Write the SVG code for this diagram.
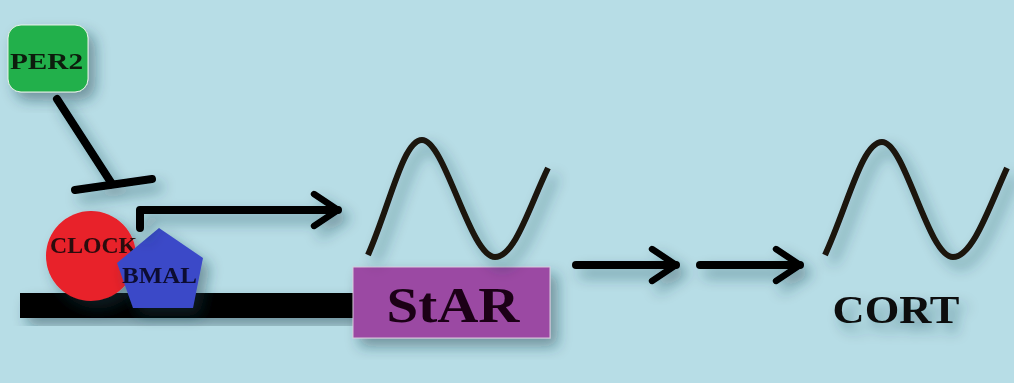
<svg xmlns="http://www.w3.org/2000/svg" width="1014" height="383" viewBox="0 0 1014 383">
<defs>
<filter id="sh" x="-30%" y="-30%" width="160%" height="160%">
<feDropShadow dx="7" dy="8" stdDeviation="7" flood-color="#1d3a44" flood-opacity="0.45"/>
</filter>
<marker id="chev" viewBox="0 0 10 10" refX="8" refY="5" markerWidth="5" markerHeight="5" orient="auto" markerUnits="strokeWidth">
<path d="M2,1 L8,5 L2,9" fill="none" stroke="#000" stroke-width="1.6" stroke-linecap="round" stroke-linejoin="round"/>
</marker>
</defs>
<style>
.lbl{font-family:"Liberation Serif","DejaVu Serif",serif;font-weight:bold;}
.conn{fill:none;stroke:#000;stroke-width:8;stroke-linecap:round;stroke-linejoin:round;}
.wave{fill:none;stroke:#1a1410;stroke-width:6;stroke-linecap:butt;stroke-linejoin:round;}
</style>
<rect x="0" y="0" width="1014" height="383" fill="#b7dde6"/>

<g id="dna" filter="url(#sh)">
<rect x="20" y="293" width="340" height="25" fill="#000"/>
</g>

<g id="per2" filter="url(#sh)">
<rect x="8" y="25" width="80" height="67" rx="13" fill="#22b04b" stroke="#e6f2e6" stroke-width="1"/>
<text class="lbl" x="10" y="69" font-size="24" fill="#0a1a0a" textLength="73" lengthAdjust="spacingAndGlyphs">PER2</text>
</g>

<g id="clock" filter="url(#sh)">
<circle cx="91" cy="256" r="45" fill="#e8202a"/>
<text class="lbl" x="50" y="253" font-size="24" fill="#2a080c" textLength="87" lengthAdjust="spacingAndGlyphs">CLOCK</text>
</g>

<g id="bmal" filter="url(#sh)">
<polygon points="159,228 203,258 193,308 133,308 117,263" fill="#3b4ac8"/>
<text class="lbl" x="122" y="283" font-size="24" fill="#0c0c30" textLength="75" lengthAdjust="spacingAndGlyphs">BMAL</text>
</g>

<g id="star" filter="url(#sh)">
<rect x="353" y="267" width="197" height="71" fill="#9b48a3" stroke="#d8c8dc" stroke-width="1"/>
<text class="lbl" x="453" y="322" font-size="50" text-anchor="middle" fill="#1a0618" textLength="133" lengthAdjust="spacingAndGlyphs">StAR</text>
</g>

<g id="star-rhythm" filter="url(#sh)">
<path class="wave" d="M368,255 C390,205 403,140 422,140 C445,140 470,257 495,257 C515,257 530,205 548,168"/>
</g>

<g id="cort" filter="url(#sh)">
<path class="wave" d="M825,255 C848,205 862,142 882,142 C905,142 928,257 953,257 C973,257 990,205 1007,168"/>
<text class="lbl" x="896" y="323" font-size="41" text-anchor="middle" fill="#0a0a0a" textLength="127" lengthAdjust="spacingAndGlyphs">CORT</text>
</g>

<g id="connectors" filter="url(#sh)">
<path class="conn" d="M57,99 L112,184"/>
<path class="conn" d="M75,190 L152,179"/>
<path class="conn" d="M140,228 L140,210 L338,210" marker-end="url(#chev)"/>
<path class="conn" d="M576,265 L676,265" marker-end="url(#chev)"/>
<path class="conn" d="M700,265 L800,265" marker-end="url(#chev)"/>
</g>
</svg>
